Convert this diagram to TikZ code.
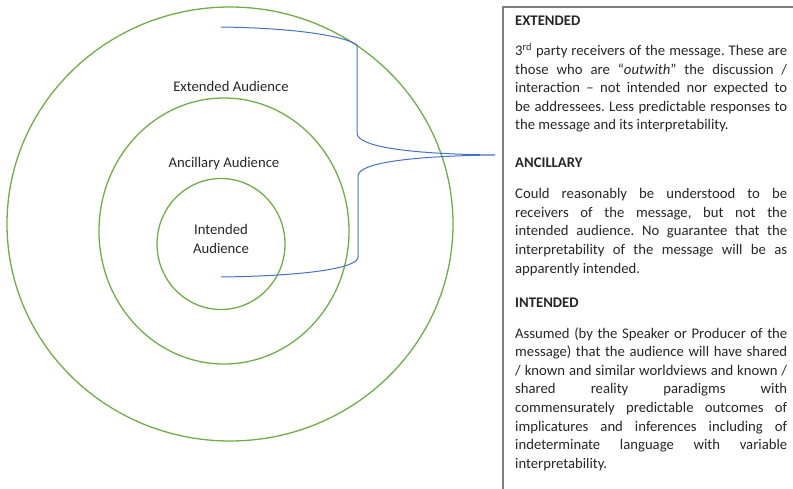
\documentclass[tikz,border=0pt]{standalone}
\usepackage{fontspec}
\setmainfont{Carlito}
\usetikzlibrary{shapes.geometric}
\definecolor{ringgreen}{HTML}{70AD47}
\definecolor{braceblue}{HTML}{4472C4}
\definecolor{txt}{HTML}{262626}
\definecolor{boxgray}{HTML}{7F7F7F}
\newcommand{\jl}[1]{\makebox[272pt][s]{#1}}
\frenchspacing
\begin{document}
\begin{tikzpicture}[x=1pt,y=-1pt,
  ring/.style={draw=ringgreen, line width=1.3pt, ellipse, inner sep=0pt},
  lbl/.style={text=txt, font=\fontsize{14.7}{19.5}\selectfont, inner sep=0pt},
  hd/.style={text=txt, font=\fontsize{14.7}{18}\selectfont\bfseries, anchor=base west, inner sep=0pt},
  ln/.style={text=txt, font=\fontsize{14.7}{18}\selectfont\frenchspacing, anchor=base west, inner sep=0pt},
  bracepath/.style={draw=braceblue, line width=1pt},
  boxline/.style={draw=boxgray, line width=1.4pt}]
\useasboundingbox (0,0) rectangle (793,489);

% rings
\node[ring, minimum width=446pt, minimum height=434pt] (outer) at (230,224) {};
\node[ring, minimum width=250pt, minimum height=266pt] (middle) at (224,231) {};
\node[ring, minimum width=128pt, minimum height=131pt] (inner) at (221,244) {};

% ring labels
\node[lbl, anchor=base] (lext) at (231,92) {Extended Audience};
\node[lbl, anchor=base] (lanc) at (224,168) {Ancillary Audience};
\node[lbl, anchor=base] (lint1) at (221,235) {Intended};
\node[lbl, anchor=base] (lint2) at (221,254) {Audience};

% brace
\coordinate (bs) at (221,27);
\coordinate (tip) at (495,155);
\coordinate (be) at (221,277);
\draw[bracepath] (bs) .. controls (295,28) and (345,36) .. (357,45) -- (357,133)
  .. controls (357,147) and (410,154) .. (tip)
  .. controls (410,156) and (358,163) .. (358,176) -- (358,257)
  .. controls (358,269) and (300,276) .. (be);

% box
\coordinate (bx1) at (503,489);
\coordinate (bx2) at (503,7);
\coordinate (bx3) at (793,7);
\draw[boxline] (bx1) -- (bx2) -- (bx3);

% EXTENDED
\node[hd] (hext) at (515,26) {EXTENDED};
\node[ln] (e1) at (515,56) {\jl{3\textsuperscript{rd} party receivers of the message. These are}};
\node[ln] (e2) at (515,74.5) {\jl{those who are ``\textit{outwith}'' the discussion /}};
\node[ln] (e3) at (515,93) {\jl{interaction -- not intended nor expected to}};
\node[ln] (e4) at (515,111.5) {\jl{be addressees. Less predictable responses to}};
\node[ln] (e5) at (515,130) {the message and its interpretability.};

% ANCILLARY
\node[hd] (hanc) at (515,168) {ANCILLARY};
\node[ln] (a1) at (515,199) {\jl{Could reasonably be understood to be}};
\node[ln] (a2) at (515,217.5) {\jl{receivers of the message, but not the}};
\node[ln] (a3) at (515,236) {\jl{intended audience. No guarantee that the}};
\node[ln] (a4) at (515,254.5) {\jl{interpretability of the message will be as}};
\node[ln] (a5) at (515,273) {apparently intended.};

% INTENDED
\node[hd] (hint) at (515,308) {INTENDED};
\node[ln] (i1) at (515,338) {\jl{Assumed (by the Speaker or Producer of the}};
\node[ln] (i2) at (515,356.6) {\jl{message) that the audience will have shared}};
\node[ln] (i3) at (515,375.2) {\jl{/ known and similar worldviews and known /}};
\node[ln] (i4) at (515,393.8) {\jl{shared reality paradigms with}};
\node[ln] (i5) at (515,412.4) {\jl{commensurately predictable outcomes of}};
\node[ln] (i6) at (515,431) {\jl{implicatures and inferences including of}};
\node[ln] (i7) at (515,449.6) {\jl{indeterminate language with variable}};
\node[ln] (i8) at (515,468.2) {interpretability.};
\end{tikzpicture}
\end{document}
